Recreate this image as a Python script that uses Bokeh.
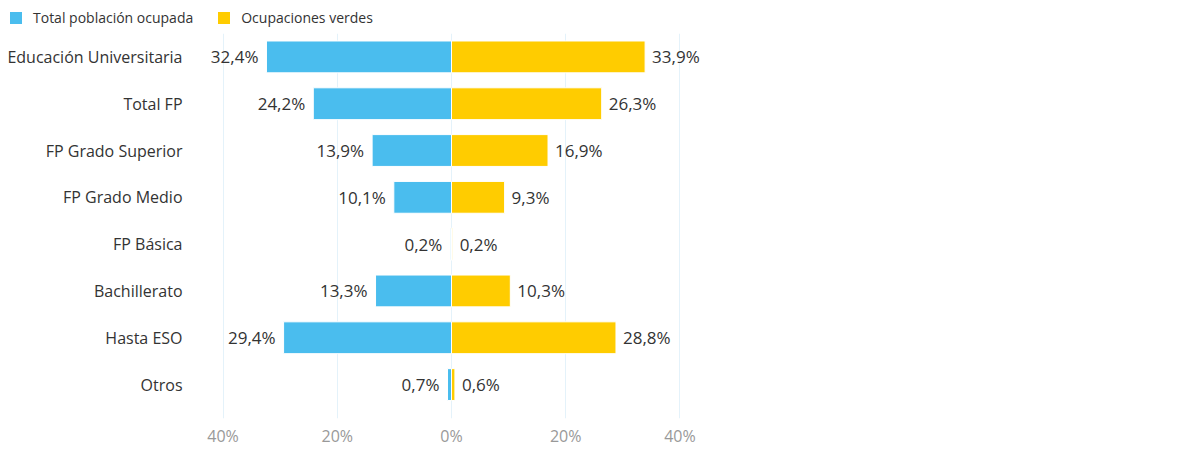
from bokeh.plotting import figure
from bokeh.layouts import column
from bokeh.models import Range1d, FixedTicker, ColumnDataSource, Legend, LegendItem
from bokeh.embed import file_html
from bokeh.resources import INLINE
from bokeh.core.properties import value

categories = ["Educación Universitaria", "Total FP", "FP Grado Superior", "FP Grado Medio",
              "FP Básica", "Bachillerato", "Hasta ESO", "Otros"]
total_ocupada = [32.4, 24.2, 13.9, 10.1, 0.2, 13.3, 29.4, 0.7]
ocup_verdes = [33.9, 26.3, 16.9, 9.3, 0.2, 10.3, 28.8, 0.6]
series_names = ["Total población ocupada", "Ocupaciones verdes"]
x_ticks = [-40, -20, 0, 20, 40]
x_tick_labels = ["40%", "20%", "0%", "20%", "40%"]

BLUE = "#4ABDEE"
YELLOW = "#FFCC00"
FONT = "Open Sans"
TXT = "#333333"

def fmt(v):
    return ("%.1f" % v).replace(".", ",") + "%"

ypos = list(range(len(categories)))
left_src = ColumnDataSource(dict(y=ypos, left=[-v for v in total_ocupada], right=[0] * len(ypos),
                                 lab=[fmt(v) for v in total_ocupada]))
right_src = ColumnDataSource(dict(y=ypos, left=[0] * len(ypos), right=ocup_verdes,
                                  lab=[fmt(v) for v in ocup_verdes]))

# ---- legend strip (its ranges keep the bars themselves out of view) ----
lg = figure(width=1180, height=33, output_backend="svg", toolbar_location=None,
            x_range=Range1d(1000, 1001), y_range=Range1d(1000, 1001),
            x_axis_type=None, y_axis_type=None,
            min_border_left=0, min_border_right=0, min_border_top=0, min_border_bottom=0)
lg.outline_line_color = None
lg.xgrid.grid_line_color = None
lg.ygrid.grid_line_color = None
d1 = lg.hbar(y="y", left="left", right="right", height=0.68, source=left_src,
             fill_color=BLUE, line_color=None)
d2 = lg.hbar(y="y", left="left", right="right", height=0.68, source=right_src,
             fill_color=YELLOW, line_color=None)
legend = Legend(items=[LegendItem(label=series_names[0], renderers=[d1]),
                       LegendItem(label=series_names[1], renderers=[d2])],
                orientation="horizontal", location=(8, 6),
                padding=0, margin=0, spacing=23, label_standoff=10,
                glyph_width=15, glyph_height=15, label_height=15,
                label_text_font=FONT, label_text_font_size="14px", label_text_color=TXT,
                border_line_color=None, background_fill_alpha=0)
lg.add_layout(legend, "center")

# ---- main chart ----
p = figure(width=1180, height=420, output_backend="svg", toolbar_location=None,
           x_range=Range1d(-45, 45), y_range=Range1d(7.725, -0.5),
           min_border_left=194, min_border_right=472, min_border_top=0, min_border_bottom=35)
p.outline_line_color = None
p.background_fill_color = "white"
p.border_fill_color = "white"

p.hbar(y="y", left="left", right="right", height=0.68, source=left_src,
       fill_color=BLUE, line_color="white", line_width=1)
p.hbar(y="y", left="left", right="right", height=0.68, source=right_src,
       fill_color=YELLOW, line_color="white", line_width=1)

p.text(x="left", y="y", text="lab", source=left_src, x_offset=-8,
       text_align="right", text_baseline="middle", text_font=value(FONT),
       text_font_size="17px", text_color=TXT)
p.text(x="right", y="y", text="lab", source=right_src, x_offset=7,
       text_align="left", text_baseline="middle", text_font=value(FONT),
       text_font_size="17px", text_color=TXT)

p.xaxis.ticker = FixedTicker(ticks=x_ticks)
p.xaxis.major_label_overrides = {t: l for t, l in zip(x_ticks, x_tick_labels)}
p.xaxis.axis_line_color = None
p.xaxis.major_tick_line_color = None
p.xaxis.minor_tick_line_color = None
p.xaxis.major_tick_out = 0
p.xaxis.major_label_text_font = FONT
p.xaxis.major_label_text_font_size = "16px"
p.xaxis.major_label_text_color = "#999999"
p.xaxis.major_label_standoff = 6

p.yaxis.ticker = FixedTicker(ticks=ypos)
p.yaxis.major_label_overrides = {i: c for i, c in zip(ypos, categories)}
p.yaxis.axis_line_color = None
p.yaxis.major_tick_line_color = None
p.yaxis.minor_tick_line_color = None
p.yaxis.major_tick_out = 0
p.yaxis.major_label_text_font = FONT
p.yaxis.major_label_text_font_size = "16px"
p.yaxis.major_label_text_color = TXT
p.yaxis.major_label_standoff = 12

p.xgrid.grid_line_color = "#E4F2FA"
p.xgrid.grid_line_width = 1
p.ygrid.grid_line_color = None

layout = column(column(lg), p, spacing=0)
open("out.html", "w").write(file_html(layout, INLINE))
